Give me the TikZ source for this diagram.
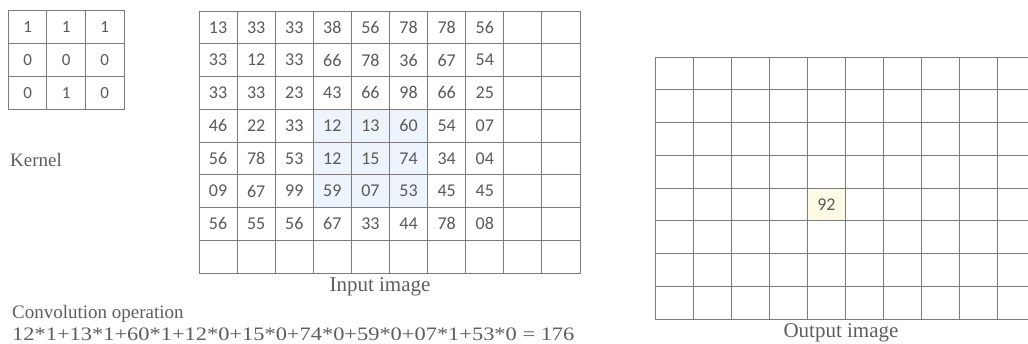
\documentclass[tikz,border=0pt]{standalone}
\usepackage{fontspec}
\setmainfont{Liberation Serif}
\newfontfamily\numfont{Carlito}
\definecolor{gridgray}{HTML}{7C7C7C}
\definecolor{numgray}{HTML}{5A5A5A}
\definecolor{labgray}{HTML}{5E5E5E}
\definecolor{hlblue}{HTML}{EEF4FB}
\definecolor{hlyellow}{HTML}{FDFBE3}
\begin{document}
\begin{tikzpicture}[x=1pt,y=-1pt,
  cellbase/.style={draw=gridgray, line width=0.9pt, inner sep=0pt, outer sep=0pt,
    anchor=north west, text=numgray},
  kcell/.style={cellbase, minimum width=38.6pt, minimum height=33.3pt,
    font=\numfont\fontsize{17}{17}\selectfont},
  icell/.style={cellbase, minimum width=38.1pt, minimum height=32.75pt,
    font=\numfont\fontsize{18}{18}\selectfont},
  lab/.style={inner sep=0pt, text=labgray, font=\fontsize{19}{19}\selectfont},
  biglab/.style={lab, font=\fontsize{21}{21}\selectfont}]
\clip (0,0) rectangle (1028,343);
\fill[white] (0,0) rectangle (1028,343);
% highlights
\fill[hlblue] (313.3,109.25) rectangle (427.6,207.5);
\fill[hlyellow] (807.4,188) rectangle (845.5,220.75);
% kernel
\foreach \row [count=\r from 0] in {{1,1,1},{0,0,0},{0,1,0}}{
  \foreach \v [count=\c from 0] in \row {
    \node[kcell] (k-\r-\c) at ({8.3+38.6*\c},{10+33.3*\r}) {\v};
  }
}
% input image
\foreach \row [count=\r from 0] in {
  {13,33,33,38,56,78,78,56,{},{}},
  {33,12,33,66,78,36,67,54,{},{}},
  {33,33,23,43,66,98,66,25,{},{}},
  {46,22,33,12,13,60,54,07,{},{}},
  {56,78,53,12,15,74,34,04,{},{}},
  {09,67,99,59,07,53,45,45,{},{}},
  {56,55,56,67,33,44,78,08,{},{}},
  {{},{},{},{},{},{},{},{},{},{}}}{
  \foreach \v [count=\c from 0] in \row {
    \node[icell] (in-\r-\c) at ({199+38.1*\c},{11+32.75*\r}) {\v};
  }
}
% output image
\foreach \r in {0,...,7}{
  \foreach \c in {0,...,9}{
    \node[icell] (out-\r-\c) at ({655+38.1*\c},{57+32.75*\r}) {};
  }
}
\node[icell, draw=none] (res) at (out-4-4.north west) {92};
% labels
\node[lab, anchor=west] (klab) at (10,160) {Kernel};
\node[biglab] (inlab) at (380,287) {Input image};
\node[biglab] (outlab) at (841,333) {Output image};
\node[lab, anchor=west] (conv) at (12,314) {Convolution operation};
\node[lab, anchor=west] (form) at (12,334) {\scalebox{1.18}[1]{12*1+13*1+60*1+12*0+15*0+74*0+59*0+07*1+53*0 = 176}};
\end{tikzpicture}
\end{document}
